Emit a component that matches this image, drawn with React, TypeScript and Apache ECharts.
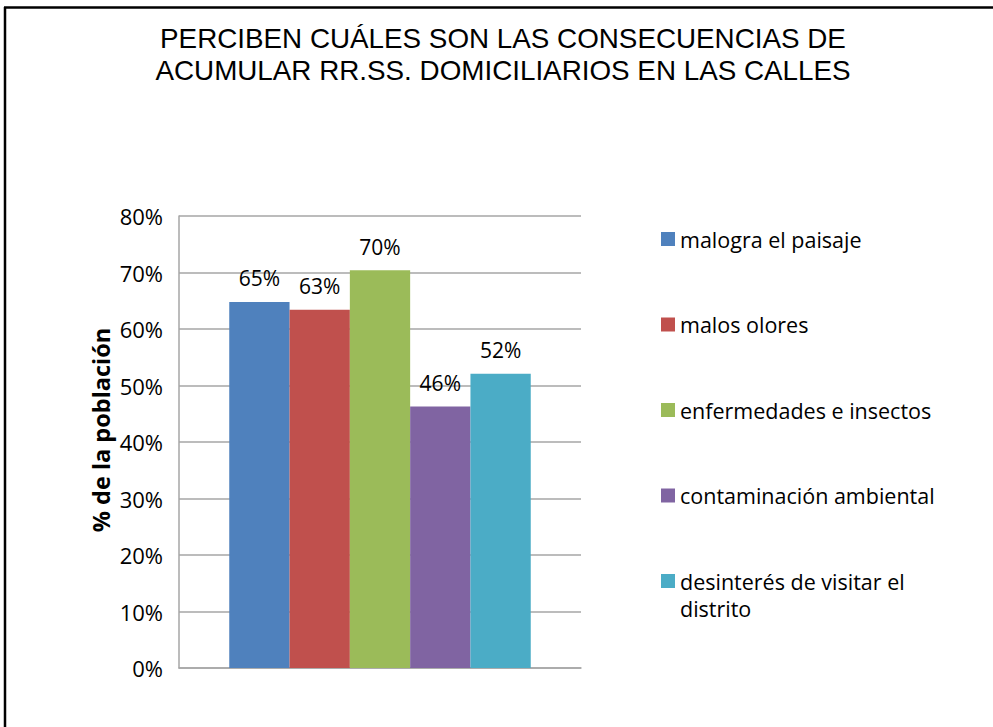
import React, { useEffect, useRef } from "react";
import * as echarts from "echarts";

const categories = [""];
const seriesNames = [
  "malogra el paisaje",
  "malos olores",
  "enfermedades e insectos",
  "contaminación ambiental",
  "desinterés de visitar el distrito",
];
const seriesValues = [64.8, 63.4, 70.4, 46.3, 52.1];
const seriesLabels = ["65%", "63%", "70%", "46%", "52%"];
const colors = ["#4F81BD", "#C0504D", "#9BBB59", "#8064A2", "#4BACC6"];
const titleText = "PERCIBEN CUÁLES SON LAS CONSECUENCIAS DE\nACUMULAR RR.SS. DOMICILIARIOS EN LAS CALLES";
const yAxisName = "% de la población";

export default function App() {
  const ref = useRef<HTMLDivElement>(null);
  useEffect(() => {
    const chart = echarts.init(ref.current!, null, { renderer: "svg" });
    const font = "'Open Sans', Lato, sans-serif";
    const legendText = { fontFamily: font, fontSize: 21.5, color: "#000", lineHeight: 27 };
    chart.setOption({
      animation: false,
      backgroundColor: "#ffffff",
      title: {
        text: titleText,
        left: 498,
        textAlign: "center",
        top: 17.5,
        textStyle: {
          fontFamily: "'Liberation Sans', Arial, sans-serif",
          fontWeight: "normal",
          fontSize: 27.8,
          lineHeight: 32,
          color: "#000",
        },
      },
      legend: [
        {
          orient: "vertical",
          left: 661,
          top: 225.5,
          padding: 0,
          itemWidth: 14,
          itemHeight: 14,
          itemGap: 58.5,
          icon: "rect",
          textStyle: legendText,
          data: seriesNames.slice(0, 4),
        },
        {
          orient: "vertical",
          left: 661,
          top: 540.5,
          padding: 0,
          itemWidth: 14,
          itemHeight: 14,
          icon: "rect",
          textStyle: legendText,
          formatter: () => " \ndesinterés de visitar el\ndistrito",
          data: seriesNames.slice(4),
        },
      ],
      grid: { left: 179, right: 412, top: 216, bottom: 59 },
      xAxis: {
        type: "category",
        data: categories,
        axisLine: { show: true, lineStyle: { color: "#A6A6A6", width: 1.5 } },
        axisTick: { show: false },
        axisLabel: { show: false },
      },
      yAxis: {
        type: "value",
        min: 0,
        max: 80,
        interval: 10,
        name: yAxisName,
        nameLocation: "middle",
        nameGap: 66,
        nameTextStyle: {
          fontFamily: font,
          fontSize: 23.5,
          fontWeight: "bold",
          color: "#000",
          padding: [0, 0, 0, 24],
        },
        axisLine: { show: true, lineStyle: { color: "#A6A6A6", width: 1.5 } },
        axisTick: { show: false },
        axisLabel: {
          fontFamily: font,
          fontSize: 22,
          color: "#000",
          margin: 16,
          formatter: (v: number) => v + "%",
        },
        splitLine: { lineStyle: { color: "#A6A6A6", width: 1.5 } },
      },
      series: seriesNames.map((n, i) => ({
        name: n,
        type: "bar",
        data: [seriesValues[i]],
        barGap: "0%",
        barCategoryGap: "25%",
        itemStyle: { color: colors[i] },
        label: {
          show: true,
          position: "top",
          distance: 13,
          fontFamily: font,
          fontSize: 21,
          color: "#000",
          formatter: () => seriesLabels[i],
        },
      })),
      graphic: [
        { type: "line", shape: { x1: 4, y1: 7.5, x2: 993, y2: 7.5 }, style: { stroke: "#000", lineWidth: 2.5 } },
        { type: "line", shape: { x1: 5, y1: 7, x2: 5, y2: 727 }, style: { stroke: "#000", lineWidth: 2.5 } },
      ],
    });
    return () => chart.dispose();
  }, []);
  return (
    <div
      ref={ref}
      style={{ position: "fixed", left: 0, top: 0, width: 993, height: 727 }}
    />
  );
}
